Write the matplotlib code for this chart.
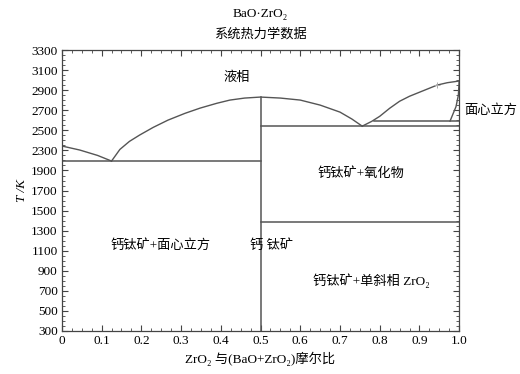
import numpy as np
import matplotlib
matplotlib.use("Agg")
import matplotlib.pyplot as plt
from matplotlib.ticker import FixedLocator, FixedFormatter

plt.rcParams['font.family'] = ['Liberation Serif', 'Noto Sans CJK SC', 'DejaVu Serif']

# y axis is broken between 1900 and 2300 K
t_breaks = [300, 1900, 2300, 3300]
p_breaks = [0, 8, 9, 14]

def fwd(t):
    return np.interp(t, t_breaks, p_breaks)

def inv(p):
    return np.interp(p, p_breaks, t_breaks)

# phase boundaries (x = ZrO2 mole fraction, T in K)
liq_left_x = [0.0, 0.045, 0.09, 0.125]
liq_left_t = [2344, 2304, 2200, 2088]
liq_mid_x = [0.125, 0.146, 0.17, 0.196, 0.23, 0.267, 0.31, 0.348, 0.39, 0.423, 0.46, 0.5,
             0.55, 0.6, 0.65, 0.7, 0.73, 0.756]
liq_mid_t = [2088, 2310, 2390, 2454, 2530, 2602, 2670, 2722, 2770, 2802, 2822, 2832,
             2822, 2802, 2752, 2682, 2613, 2542]
liq_right_x = [0.756, 0.78, 0.8, 0.825, 0.85, 0.875, 0.9, 0.925, 0.945, 0.97, 1.0]
liq_right_t = [2542, 2590, 2640, 2720, 2790, 2840, 2880, 2920, 2952, 2975, 2992]
sol_right_x = [0.977, 0.992, 0.998, 1.0]
sol_right_t = [2592, 2736, 2850, 2992]

eut_left_t = 2088
eut_right_t = 2542
upper_fcc_t = 2592
upper_fcc_x0 = 0.785
low_trans_t = 1390
comp_x = 0.5
comp_melt_t = 2832

marker_x = [0.945]
marker_t = [2952]

xticks = [0, 0.1, 0.2, 0.3, 0.4, 0.5, 0.6, 0.7, 0.8, 0.9, 1.0]
xtick_labels = ['0', '0.1', '0.2', '0.3', '0.4', '0.5', '0.6', '0.7', '0.8', '0.9', '1.0']
yticks = [300, 500, 700, 900, 1100, 1300, 1500, 1700, 1900, 2300, 2500, 2700, 2900, 3100, 3300]

lc = '#555555'
fig = plt.figure(figsize=(5.2, 3.74), dpi=100)
ax = fig.add_axes([0.119, 0.115, 0.764, 0.751])
ax.set_yscale('function', functions=(fwd, inv))

ax.plot(liq_left_x, liq_left_t, color=lc, lw=1)
ax.plot(liq_mid_x, liq_mid_t, color=lc, lw=1)
ax.plot(liq_right_x, liq_right_t, color=lc, lw=1)
ax.plot(sol_right_x, sol_right_t, color=lc, lw=1)
ax.plot([0, comp_x], [eut_left_t, eut_left_t], color=lc, lw=1.1)
ax.plot([comp_x, 1.0], [eut_right_t, eut_right_t], color=lc, lw=1.1)
ax.plot([upper_fcc_x0, 1.0], [upper_fcc_t, upper_fcc_t], color=lc, lw=1.1)
ax.plot([comp_x, 1.0], [low_trans_t, low_trans_t], color=lc, lw=1.1)
ax.plot([comp_x, comp_x], [300, comp_melt_t], color=lc, lw=1.1)
ax.plot(marker_x, marker_t, '+', color='#aaaaaa', ms=5, mew=0.7)

ax.set_xlim(0, 1)
ax.set_ylim(300, 3300)
ax.xaxis.set_major_locator(FixedLocator(xticks))
ax.xaxis.set_major_formatter(FixedFormatter(xtick_labels))
ax.xaxis.set_minor_locator(FixedLocator(np.arange(0, 1.001, 0.025)))
ax.yaxis.set_major_locator(FixedLocator(yticks))
ax.yaxis.set_major_formatter(FixedFormatter([str(t) for t in yticks]))
ax.yaxis.set_minor_locator(FixedLocator(inv(np.arange(0, 14.01, 0.25))))
ax.tick_params(which='both', direction='in', top=True, right=True, labelsize=9.5,
               color='#444444', pad=3)
ax.tick_params(which='major', length=4, width=0.8)
ax.tick_params(which='minor', length=2, width=0.6)
for s in ax.spines.values():
    s.set_color('#444444')
    s.set_linewidth(0.9)

fs = 9.5
ax.text(0.44, 3030, '液相', fontsize=fs, ha='center', va='center')
ax.text(1.012, 2700, '面心立方', fontsize=fs, ha='left', va='center', clip_on=False)
ax.text(0.753, 1870, '钙钛矿+氧化物', fontsize=fs, ha='center', va='center')
ax.text(0.247, 1150, '钙钛矿+面心立方', fontsize=fs, ha='center', va='center')
ax.text(0.527, 1150, '钙 钛矿', fontsize=fs, ha='center', va='center')
ax.text(0.78, 800, '钙钛矿+单斜相 ZrO₂', fontsize=fs, ha='center', va='center')

ax.set_xlabel('ZrO₂ 与(BaO+ZrO₂)摩尔比', fontsize=fs, labelpad=3)
ax.set_ylabel('T /K', fontsize=fs, fontstyle='italic', labelpad=2)
fig.text(0.501, 0.962, 'BaO·ZrO₂', fontsize=fs, ha='center', va='center')
fig.text(0.501, 0.907, '系统热力学数据', fontsize=fs, ha='center', va='center')

fig.savefig('out.png', dpi=100)
